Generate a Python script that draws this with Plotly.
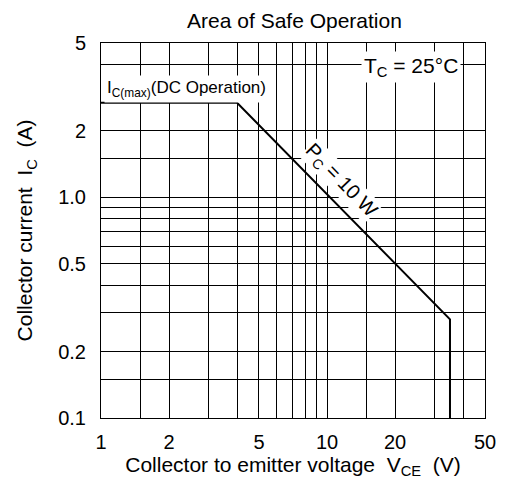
import plotly.graph_objects as go

# Safe operating area boundary
vce = [1, 4, 35, 35]
ic = [2.68, 2.68, 0.28, 0.1]

x_grid = [1, 1.5, 2, 3, 4, 5, 6, 7, 8, 9, 10, 15, 20, 30, 40, 50]
x_labels = ["1", "", "2", "", "", "5", "", "", "", "", "10", "", "20", "", "", "50"]
y_grid = [0.1, 0.15, 0.2, 0.3, 0.4, 0.5, 0.6, 0.7, 0.8, 0.9, 1.0, 1.5, 2, 4, 5]
y_labels = ["0.1", "", "0.2", "", "", "0.5", "", "", "", "", "1.0", "", "2", "", "5"]

font = "Liberation Sans, Arial, sans-serif"

fig = go.Figure()
fig.add_trace(go.Scatter(x=vce, y=ic, mode="lines",
                         line=dict(color="black", width=2), showlegend=False,
                         hoverinfo="skip"))

fig.update_layout(
    width=500, height=477,
    margin=dict(l=93, r=20, t=35, b=67),
    paper_bgcolor="white", plot_bgcolor="white",
    font=dict(family=font, size=20, color="black"),
    title=dict(text="Area of Safe Operation", x=0.573, xanchor="center",
               y=0.974, yanchor="middle", font=dict(size=21, family=font)),
    xaxis=dict(type="log", range=[0, 1.69897], tickvals=x_grid, ticktext=x_labels,
               showgrid=True, gridcolor="black", gridwidth=1,
               showline=True, linecolor="black", linewidth=1, mirror=True,
               ticks="", zeroline=False, tickfont=dict(size=20),
               ticklabelstandoff=6,
               title=dict(text="Collector to emitter voltage  V<sub>CE</sub>  (V)",
                          standoff=1, font=dict(size=21))),
    yaxis=dict(type="log", range=[-1, 0.69897], tickvals=y_grid, ticktext=y_labels,
               showgrid=True, gridcolor="black", gridwidth=1,
               showline=True, linecolor="black", linewidth=1, mirror=True,
               ticks="", zeroline=False, tickfont=dict(size=20),
               ticklabelstandoff=10,
               title=dict(text="Collector current  I<sub>C</sub>  (A)",
                          standoff=19, font=dict(size=21))),
)

fig.add_annotation(xref="paper", yref="paper", x=0.008, y=0.877,
                   xanchor="left", yanchor="middle",
                   text="I<sub>C(max)</sub>(DC Operation)", showarrow=False,
                   bgcolor="white", borderpad=2, font=dict(size=17, family=font))
fig.add_annotation(xref="paper", yref="paper", x=0.808, y=0.935,
                   xanchor="center", yanchor="middle",
                   text="T<sub>C</sub> = 25°C", showarrow=False,
                   bgcolor="white", borderpad=2, font=dict(size=21, family=font))
fig.add_annotation(x=1.058, y=0.074, xref="x", yref="y",
                   text="P<sub>C</sub> = 10 W", showarrow=False, textangle=46,
                   bgcolor="white", borderpad=0, font=dict(size=20, family=font))

fig.write_html("out.html")
